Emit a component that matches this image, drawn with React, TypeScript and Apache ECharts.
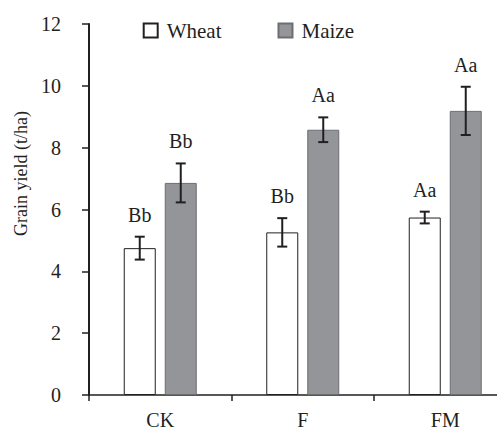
import React, { useEffect, useRef } from "react";
import * as echarts from "echarts";

const categories = ["CK", "F", "FM"];
const wheatMean = [4.75, 5.26, 5.74];
const wheatErr = [0.37, 0.46, 0.19];
const wheatLetters = ["Bb", "Bb", "Aa"];
const maizeMean = [6.86, 8.58, 9.19];
const maizeErr = [0.63, 0.4, 0.78];
const maizeLetters = ["Bb", "Aa", "Aa"];
const yTicks = { min: 0, max: 12, interval: 2 };

const FONT = "Liberation Serif";
const BAR_W = 32;
const GAP = 9;
const OFF = (BAR_W + GAP) / 2;

function errSeries(name: string, means: number[], errs: number[], letters: string[], dx: number) {
  return {
    type: "custom",
    name: name + "-err",
    z: 10,
    silent: true,
    data: means.map((m, i) => [i, m, errs[i]]),
    encode: { x: 0, y: 1 },
    renderItem: (params: any, api: any) => {
      const i = api.value(0);
      const m = api.value(1);
      const e = api.value(2);
      const idx = params.dataIndex;
      const top = api.coord([i, m + e]);
      const bot = api.coord([i, m - e]);
      const x = top[0] + dx;
      const cap = 5;
      const st = { stroke: "#231f20", lineWidth: 2 };
      return {
        type: "group",
        children: [
          { type: "line", shape: { x1: x, y1: top[1], x2: x, y2: bot[1] }, style: st },
          { type: "line", shape: { x1: x - cap, y1: top[1], x2: x + cap, y2: top[1] }, style: st },
          { type: "line", shape: { x1: x - cap, y1: bot[1], x2: x + cap, y2: bot[1] }, style: st },
          {
            type: "text",
            x: x,
            y: top[1] - 22,
            style: {
              text: letters[idx],
              fill: "#231f20",
              fontFamily: FONT,
              fontSize: 20,
              align: "center",
              verticalAlign: "middle",
            },
          },
        ],
      };
    },
  };
}

export default function App() {
  const ref = useRef<HTMLDivElement>(null);
  useEffect(() => {
    if (!ref.current) return;
    const chart = echarts.init(ref.current, undefined, { renderer: "svg" });
    chart.setOption({
      animation: false,
      backgroundColor: "#ffffff",
      textStyle: { fontFamily: FONT },
      grid: { left: 89, top: 24, height: 371, width: 427.5, containLabel: false, outerBoundsMode: "none" },
      legend: {
        data: ["Wheat", "Maize"],
        left: 142.7,
        top: 20,
        padding: 0,
        icon: "rect",
        itemWidth: 14,
        itemHeight: 14,
        itemGap: 56,
        textStyle: { fontFamily: FONT, fontSize: 21, color: "#231f20", padding: [0, 0, 0, 4] },
      },
      graphic: [
        {
          type: "text",
          x: 21,
          y: 173.5,
          rotation: Math.PI / 2,
          style: {
            text: "Grain yield (t/ha)",
            fontFamily: FONT,
            fontSize: 18,
            fill: "#231f20",
            align: "center",
            verticalAlign: "middle",
          },
        },
      ],
      xAxis: {
        type: "category",
        data: categories,
        axisLine: { lineStyle: { color: "#231f20", width: 1.5 } },
        axisTick: { show: true, length: 6, lineStyle: { color: "#231f20", width: 1.5 } },
        axisLabel: { fontFamily: FONT, fontSize: 20, color: "#231f20", margin: 15 },
      },
      yAxis: {
        type: "value",
        min: yTicks.min,
        max: yTicks.max,
        interval: yTicks.interval,
        splitLine: { show: false },
        axisLine: { show: true, lineStyle: { color: "#231f20", width: 2 } },
        axisTick: { show: true, length: 7, lineStyle: { color: "#231f20", width: 1.5 } },
        axisLabel: { fontFamily: FONT, fontSize: 20, color: "#231f20", margin: 28, padding: [0, 0, 7, 0] },
      },
      series: [
        {
          type: "bar",
          name: "Wheat",
          data: wheatMean,
          barWidth: BAR_W,
          barGap: `${(GAP / BAR_W) * 100}%`,
          itemStyle: { color: "#ffffff", borderColor: "#231f20", borderWidth: 1 },
        },
        {
          type: "bar",
          name: "Maize",
          data: maizeMean,
          barWidth: BAR_W,
          itemStyle: { color: "#939598", borderColor: "#6d6e71", borderWidth: 1 },
        },
        errSeries("Wheat", wheatMean, wheatErr, wheatLetters, -OFF),
        errSeries("Maize", maizeMean, maizeErr, maizeLetters, OFF),
      ],
    });
    return () => chart.dispose();
  }, []);
  return <div ref={ref} style={{ width: 497, height: 432, position: "absolute", left: 0, top: 0 }} />;
}
